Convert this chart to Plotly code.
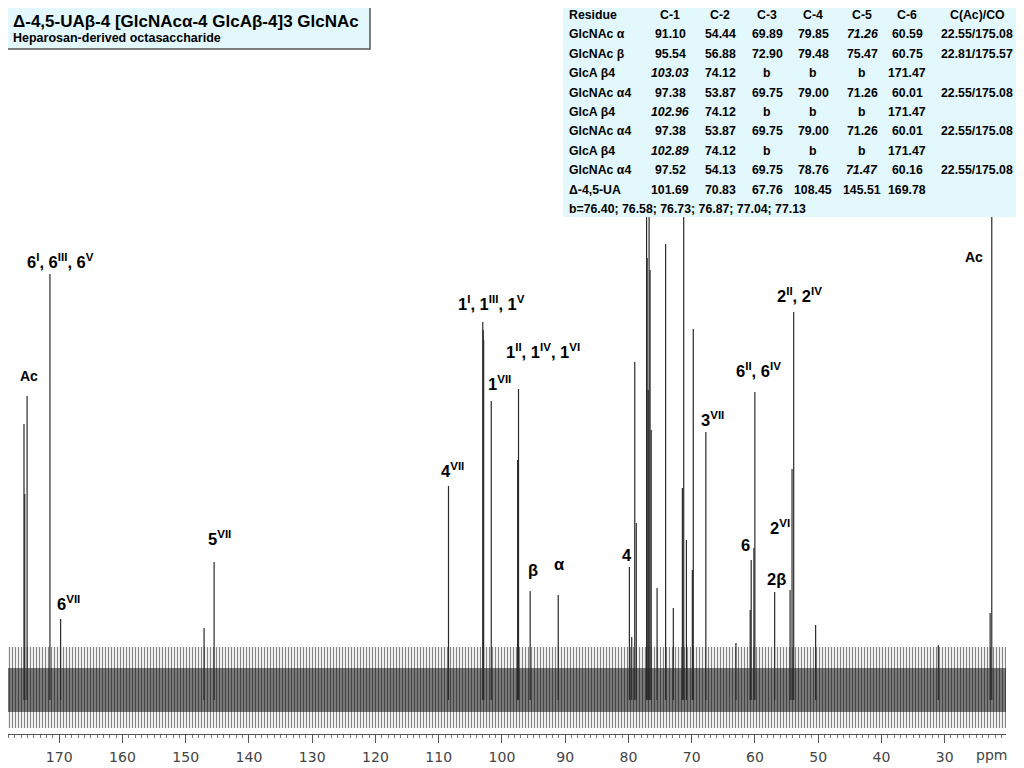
import plotly.graph_objects as go

# 13C NMR peak list: chemical shift (ppm) and height (a.u.)
peak_ppm = [175.57, 175.45, 175.08, 171.47, 169.78, 147.10, 145.51, 108.45,
            103.03, 102.96, 102.89, 101.69, 97.52, 97.38, 95.54, 91.10,
            79.85, 79.48, 79.00, 78.76, 77.13, 77.04, 76.87, 76.73, 76.58, 76.40,
            75.47, 74.12, 72.90, 71.47, 71.26, 70.83, 69.89, 69.75, 67.76,
            63.00, 60.75, 60.59, 60.16, 60.01, 56.88, 54.44, 54.13, 53.87,
            50.40, 31.00, 22.81, 22.55]
peak_int = [266, 196, 294, 416, 71, 62, 128, 204,
            368, 360, 350, 289, 230, 301, 99, 95,
            123, 53, 328, 167, 560, 432, 300, 540, 420, 260,
            102, 446, 82, 202, 560, 150, 120, 361, 258,
            47, 80, 130, 142, 298, 98, 100, 221, 378,
            65, 45, 77, 560]

# noise band envelope (outer spikes and dense core)
noise_ppm = [178.1, 20.3]
noise_hi = [43, 43]
noise_lo = [-38, -38]
core_hi = [22, 22]
core_lo = [-22, -22]

# peak assignments: text, ppm, height
label_text = ["Ac", "6<sup>I</sup>, 6<sup>III</sup>, 6<sup>V</sup>", "6<sup>VII</sup>",
              "5<sup>VII</sup>", "4<sup>VII</sup>", "1<sup>I</sup>, 1<sup>III</sup>, 1<sup>V</sup>",
              "1<sup>VII</sup>", "1<sup>II</sup>, 1<sup>IV</sup>, 1<sup>VI</sup>", "β", "α", "4",
              "3<sup>VII</sup>", "6<sup>II</sup>, 6<sup>IV</sup>", "2<sup>II</sup>, 2<sup>IV</sup>",
              "6", "2<sup>VI</sup>", "2β", "Ac"]
label_ppm = [174.84, 169.76, 168.5, 144.67, 107.84, 101.65, 100.37, 93.49, 95.12, 91.05,
             80.18, 66.74, 59.36, 52.91, 61.56, 55.97, 56.63, 25.3]
label_int = [314, 429, 87, 152, 220, 387, 307, 339, 120, 126,
             135, 271, 320, 395, 145, 163, 111, 433]

# table of assignments
table_head = ["Residue", "C-1", "C-2", "C-3", "C-4", "C-5", "C-6", "C(Ac)/CO"]
residues = ["GlcNAc α", "GlcNAc β", "GlcA β4", "GlcNAc α4", "GlcA β4",
            "GlcNAc α4", "GlcA β4", "GlcNAc α4", "Δ-4,5-UA"]
c1 = ["91.10", "95.54", "<i>103.03</i>", "97.38", "<i>102.96</i>", "97.38", "<i>102.89</i>", "97.52", "101.69"]
c2 = ["54.44", "56.88", "74.12", "53.87", "74.12", "53.87", "74.12", "54.13", "70.83"]
c3 = ["69.89", "72.90", "b", "69.75", "b", "69.75", "b", "69.75", "67.76"]
c4 = ["79.85", "79.48", "b", "79.00", "b", "79.00", "b", "78.76", "108.45"]
c5 = ["<i>71.26</i>", "75.47", "b", "71.26", "b", "71.26", "b", "<i>71.47</i>", "145.51"]
c6 = ["60.59", "60.75", "171.47", "60.01", "171.47", "60.01", "171.47", "60.16", "169.78"]
cac = ["22.55/175.08", "22.81/175.57", "", "22.55/175.08", "", "22.55/175.08", "", "22.55/175.08", ""]
b_note = "b=76.40; 76.58; 76.73; 76.87; 77.04; 77.13"

FONT = "Liberation Sans, Arial, sans-serif"

# the page puts the figure 8px in from the corner, so positions below are
# given in screen pixels and moved back by that amount
OFF = 8


def px_x(px):
    return (px - 8) / 998


def px_y(py):
    return (734 - py) / (734 - OFF)


fig = go.Figure()

# noise
fig.add_trace(go.Scatter(
    x=noise_ppm + noise_ppm[::-1], y=noise_hi + noise_lo[::-1],
    fill="toself", mode="lines", line=dict(width=0),
    fillcolor="rgba(0,0,0,0.06)",
    fillpattern=dict(shape="|", fgcolor="black", size=3, solidity=0.3),
    hoverinfo="skip", showlegend=False))
fig.add_trace(go.Scatter(
    x=noise_ppm + noise_ppm[::-1], y=core_hi + core_lo[::-1],
    fill="toself", mode="lines", line=dict(width=0),
    fillcolor="rgba(0,0,0,0.3)",
    fillpattern=dict(shape="|", fgcolor="black", size=2, solidity=0.55),
    hoverinfo="skip", showlegend=False))

# peaks as stick lines
xs, ys = [], []
for p, h in zip(peak_ppm, peak_int):
    xs += [p, p, None]
    ys += [-10, h, None]
fig.add_trace(go.Scatter(x=xs, y=ys, mode="lines",
                         line=dict(color="#2a2a2a", width=1.2),
                         showlegend=False))

# peak labels
for t, p, h in zip(label_text, label_ppm, label_int):
    fig.add_annotation(x=p, y=h, text="<b>" + t + "</b>", showarrow=False,
                       xanchor="center", yanchor="middle",
                       font=dict(family=FONT, size=14 if t == "Ac" else 16.5, color="black"))

# title box
fig.add_shape(type="rect", xref="paper", yref="paper",
              x0=px_x(3), x1=px_x(370), y0=px_y(3), y1=px_y(49),
              fillcolor="#e2f8fc", line=dict(color="#555555", width=1.5), layer="above")
fig.add_annotation(xref="paper", yref="paper", x=px_x(11), y=px_y(21),
                   text="<b>Δ-4,5-UAβ-4 [GlcNAcα-4 GlcAβ-4]3 GlcNAc</b>",
                   showarrow=False, xanchor="left", yanchor="middle",
                   font=dict(family=FONT, size=17, color="black"))
fig.add_annotation(xref="paper", yref="paper", x=px_x(11), y=px_y(38),
                   text="<b>Heparosan-derived octasaccharide</b>",
                   showarrow=False, xanchor="left", yanchor="middle",
                   font=dict(family=FONT, size=12.5, color="black"))

# table panel
fig.add_shape(type="rect", xref="paper", yref="paper",
              x0=px_x(563), x1=px_x(1040), y0=px_y(217), y1=px_y(-10),
              fillcolor="#e2f8fc", line=dict(width=0), layer="above")

col_x = [567, 670, 720, 767, 813, 862, 907, 977]
row_y = [15 + 19.4 * i for i in range(11)]
cols = [residues, c1, c2, c3, c4, c5, c6, cac]


def cell(text, cx, cy, left=False):
    fig.add_annotation(xref="paper", yref="paper", x=px_x(cx), y=px_y(cy),
                       text="<b>" + text + "</b>", showarrow=False,
                       xanchor="left" if left else "center", yanchor="middle",
                       font=dict(family=FONT, size=12.3, color="black"))


for j, h in enumerate(table_head):
    cell(h, col_x[j], row_y[0], left=(j == 0))
for j, col in enumerate(cols):
    for i, v in enumerate(col):
        if v:
            cell(v, col_x[j], row_y[i + 1], left=(j == 0))
cell(b_note, 567, row_y[10], left=True)

# "ppm" unit label
fig.add_annotation(xref="paper", yref="paper", x=px_x(991), y=px_y(755),
                   text="ppm", showarrow=False, xanchor="center", yanchor="middle",
                   font=dict(family="DejaVu Sans", size=14, color="#444444"))

fig.update_xaxes(range=[178.1, 20.3], tick0=0, dtick=10,
                 ticks="outside", ticklen=8, tickwidth=1, tickcolor="#555555",
                 showline=True, linecolor="#555555", linewidth=1,
                 showgrid=False, zeroline=False, ticklabelstandoff=2,
                 tickfont=dict(family="DejaVu Sans", size=14, color="#444444"),
                 minor=dict(dtick=1, ticks="outside", ticklen=3, tickcolor="#777777"))
fig.update_yaxes(range=[-44, 690 - OFF], visible=False)

fig.update_layout(width=1024, height=768, plot_bgcolor="white", paper_bgcolor="white",
                  margin=dict(l=0, r=1024 - 998, t=0, b=768 - 734 + OFF),
                  showlegend=False)

fig.write_html("out.html")
